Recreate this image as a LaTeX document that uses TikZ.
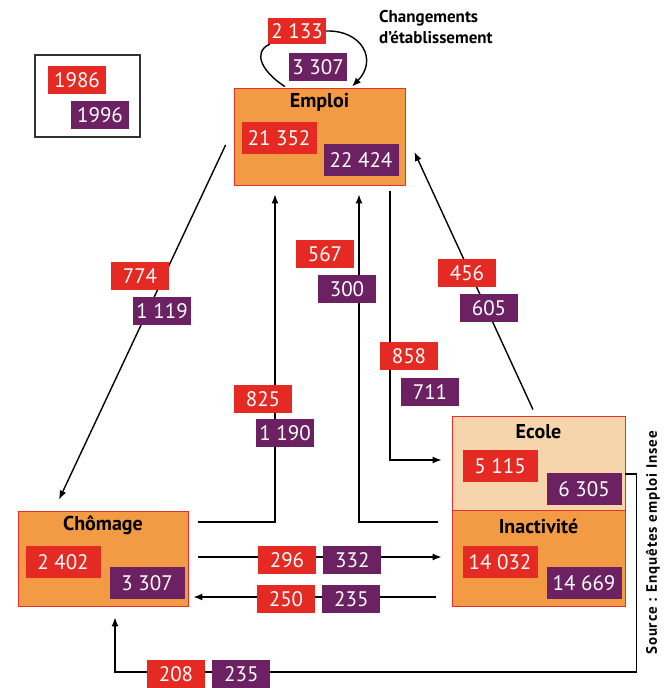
\documentclass[tikz,border=0pt]{standalone}
\usepackage{fontspec}
\setmainfont{PT Sans}
\usetikzlibrary{positioning,calc,arrows.meta}
\definecolor{rouge}{HTML}{E42A23}
\definecolor{prune}{HTML}{6C2262}
\definecolor{orangebox}{HTML}{F39A44}
\definecolor{peche}{HTML}{F7D5AC}
\definecolor{rougebord}{HTML}{E8302A}
\tikzset{boite/.style={draw=rougebord,fill=orangebox,line width=0.8pt,inner sep=0pt}}
\tikzset{va/.style={fill=rouge,text=white,inner sep=0pt,minimum width=58pt,minimum height=28pt,node font=\fontsize{21}{21}\selectfont}}
\tikzset{vb/.style={va,fill=prune}}
\tikzset{grand/.style={minimum width=75pt,minimum height=32pt}}
\tikzset{titre/.style={inner sep=0pt,node font=\bfseries\fontsize{20}{20}\selectfont}}
\tikzset{trait/.style={draw,line width=1.4pt}}
\tikzset{fleche/.style={trait,-{Latex[length=9pt,width=7pt]}}}
\begin{document}
\begin{tikzpicture}[x=1pt,y=-1pt]
\useasboundingbox[fill=white] (0,0) rectangle (669,688);
% legende
\node[draw=black!80,line width=1.6pt,minimum width=105pt,minimum height=82pt] (leg) at (87.5,96) {};
\node[va] (r86) at (77,80) {1986};
\node[vb] (p96) at ([shift={(23,35)}]r86) {1996};
% les quatre etats
\node[boite,minimum width=171pt,minimum height=97pt] (emploi) at (319.5,136.5) {};
\node[titre] (temploi) at ([shift={(0,15)}]emploi.north) {Emploi};
\node[boite,minimum width=170pt,minimum height=95pt] (chomage) at (103,558.5) {};
\node[titre] (tchomage) at ([shift={(0,15)}]chomage.north) {Chômage};
\node[boite,fill=peche,minimum width=173pt,minimum height=94pt] (ecole) at (538.5,463) {};
\node[titre] (tecole) at ([shift={(0,16)}]ecole.north) {Ecole};
\node[boite,minimum width=173pt,minimum height=96pt] (inact) at (538.5,558) {};
\node[titre] (tinact) at ([shift={(0,17)}]inact.north) {Inactivité};
\node[anchor=west,align=left,inner sep=0pt,font=\bfseries\fontsize{17}{21}\selectfont] (chg) at (379,27) {Changements\\d’établissement};
\node[rotate=90,inner sep=0pt,font=\bfseries\fontsize{15}{15}\selectfont\addfontfeature{LetterSpace=6}] (src) at (653,543) {Source : Enquêtes emploi Insee};
% points d'attache
\coordinate (e1) at ([shift={(-8,8.5)}]emploi.west);
\coordinate (c1) at ([shift={(-44,-11)}]chomage.north);
\coordinate (c2) at ([shift={(10,-36.5)}]chomage.east);
\coordinate (e2) at ([shift={(-44.5,9)}]emploi.south);
\coordinate (i3) at ([shift={(-14,-36)}]inact.west);
\coordinate (e3) at ([shift={(39.5,9)}]emploi.south);
\coordinate (e4) at ([shift={(70.5,6)}]emploi.south);
\coordinate (s4) at ([shift={(-10,-3)}]ecole.west);
\coordinate (s5) at ([shift={(-5.5,-6)}]ecole.north);
\coordinate (e5) at ([shift={(9,15.5)}]emploi.east);
\coordinate (c6) at ([shift={(10,-1.5)}]chomage.east);
\coordinate (i6) at ([shift={(-10,-1)}]inact.west);
\coordinate (i7) at ([shift={(-16,39)}]inact.west);
\coordinate (c7) at ([shift={(5,38.5)}]chomage.east);
\coordinate (s8) at ([shift={(0,11)}]ecole.east);
\coordinate (c8) at ([shift={(12,11)}]chomage.south);
\coordinate (e9a) at ([shift={(-34.5,-1)}]emploi.north);
\coordinate (e9b) at ([shift={(32.5,-1)}]emploi.north);
% flux
\draw[fleche] (e1) -- (c1);
\draw[fleche] (c2) -| (e2);
\draw[fleche] (i3) -| (e3);
\draw[fleche] (e4) |- (s4);
\draw[fleche] (s5) -- (e5);
\draw[fleche] (c6) -- (i6);
\draw[fleche] (i7) -- (c7);
\draw[fleche] (s8) -- ++(11,0) -- ++(0,198) -| (c8);
\node[va,minimum height=26pt] (r2133) at (297,31) {2 133};
\draw[trait] (e9a) .. controls (262,72) and (252,52) .. ([xshift=2pt]r2133.south west);
\draw[fleche] (r2133.east) .. controls (362,30) and (378,60) .. (e9b);
% effectifs
\node[vb] (p3307) at ([shift={(21,36)}]r2133) {3 307};
\node[va,grand] (r21352) at (279,138) {21 352};
\node[vb,grand] (p22424) at ([shift={(82,22)}]r21352) {22 424};
\node[va,grand] (r2402) at (63,562) {2 402};
\node[vb,grand] (p3307c) at ([shift={(84,21)}]r2402) {3 307};
\node[va,grand] (r5115) at (500,466) {5 115};
\node[vb,grand] (p6305) at ([shift={(84,23)}]r5115) {6 305};
\node[va,grand] (r14032) at (500,562) {14 032};
\node[vb,grand] (p14669) at ([shift={(84,21)}]r14032) {14 669};
% valeurs des flux
\node[va] (r774) at (140,276) {774};
\node[vb] (p1119) at ([shift={(22,35)}]r774) {1 119};
\node[va] (r567) at (325,254) {567};
\node[vb] (p300) at ([shift={(22,35)}]r567) {300};
\node[va] (r456) at (467,273) {456};
\node[vb] (p605) at ([shift={(22,35)}]r456) {605};
\node[va] (r858) at (409,356) {858};
\node[vb] (p711) at ([shift={(21,36)}]r858) {711};
\node[va] (r825) at (263,399) {825};
\node[vb] (p1190) at ([shift={(22,34)}]r825) {1 190};
\node[va] (r296) at (287,560) {296};
\node[vb] (p332) [right=7pt of r296] {332};
\node[va] (r250) at (286,599) {250};
\node[vb] (p235) [right=7pt of r250] {235};
\node[va] (r208) at (176,674) {208};
\node[vb] (p235b) [right=7pt of r208] {235};
\end{tikzpicture}
\end{document}
